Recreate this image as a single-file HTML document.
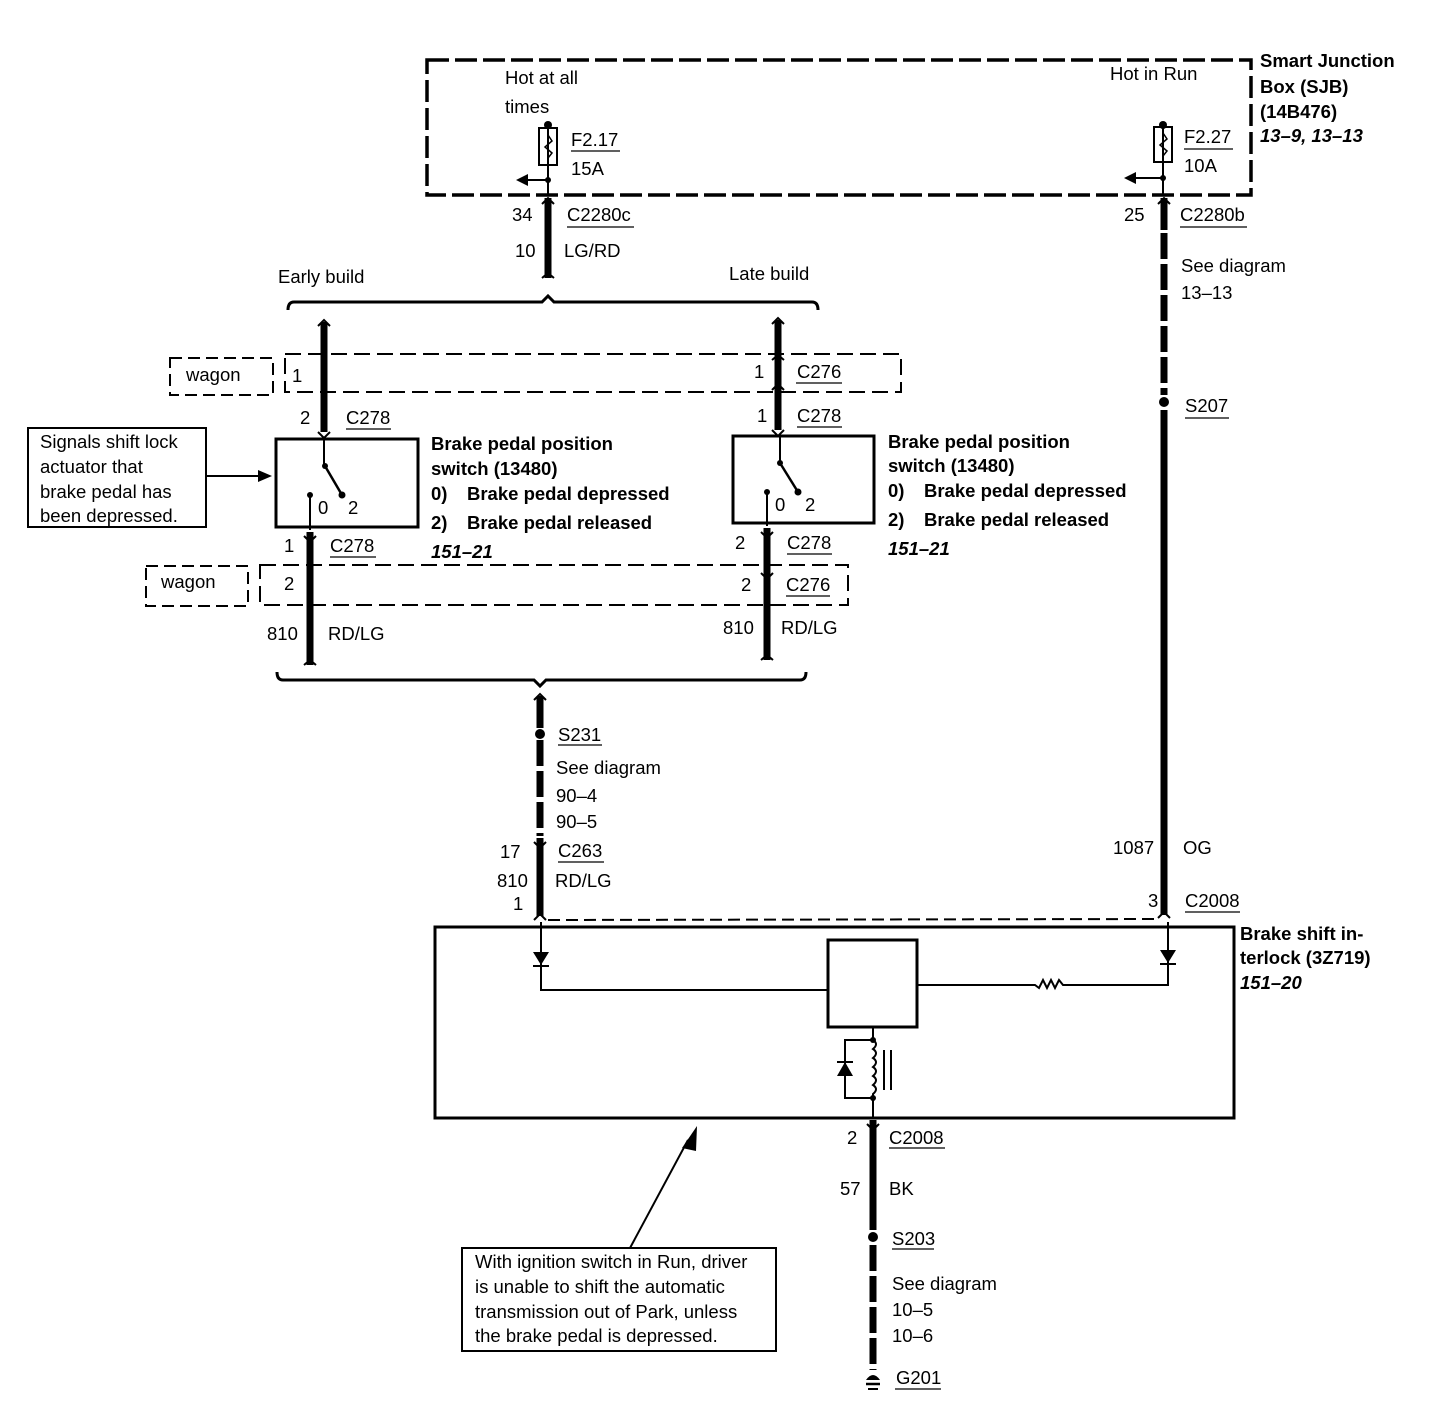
<!DOCTYPE html>
<html><head><meta charset="utf-8"><style>
html,body{margin:0;padding:0;background:#fff;}
svg{display:block;}
text{font-family:"Liberation Sans",sans-serif;font-size:18.5px;fill:#000;}
.b{font-weight:bold;font-size:18.5px;}
.bi{font-weight:bold;font-style:italic;}
</style></head><body>
<svg width="1430" height="1408" viewBox="0 0 1430 1408" xmlns="http://www.w3.org/2000/svg">
<g fill="none" stroke="#000">
<rect x="427" y="60" width="824" height="135" stroke-width="3.5" stroke-dasharray="22,6"/>
<line x1="548" y1="125" x2="548" y2="195" stroke-width="2"/>
<rect x="539" y="128" width="18" height="37" stroke-width="2"/>
<path d="M548 135 l4 6 -7 6 7 6 -4 5" stroke-width="1.5"/>
<line x1="548" y1="180" x2="525" y2="180" stroke-width="2"/>
<line x1="1163" y1="125" x2="1163" y2="195" stroke-width="2"/>
<rect x="1154" y="127" width="18" height="35" stroke-width="2"/>
<path d="M1163 133 l4 6 -7 6 7 6 -4 5" stroke-width="1.5"/>
<line x1="1163" y1="178" x2="1132" y2="178" stroke-width="2"/>
<line x1="548" y1="198" x2="548" y2="278" stroke-width="7"/>
<path d="M542 204 l6 -6 6 6 M542 278 l6 -5 6 5" stroke-width="2"/>
<line x1="1164" y1="198" x2="1164" y2="230" stroke-width="7"/>
<path d="M1158 204 l6 -6 6 6" stroke-width="2"/>
<line x1="1164" y1="233" x2="1164" y2="395" stroke-width="7" stroke-dasharray="26,5"/>
<line x1="1164" y1="410" x2="1164" y2="915" stroke-width="7"/>
<path d="M1158 918 l6 -6 6 6" stroke-width="2"/>
<path d="M288 310 q0 -8 6 -8 L542 302 l6 -6 6 6 L812 302 q6 0 6 8" stroke-width="3"/>
<line x1="324" y1="322" x2="324" y2="432" stroke-width="7"/>
<path d="M318 326 l6 -6 6 6 M318 432 l6 6 6 -6" stroke-width="2"/>
<line x1="324" y1="438" x2="324" y2="466" stroke-width="2"/>
<line x1="778" y1="320" x2="778" y2="430" stroke-width="7"/>
<path d="M772 324 l6 -6 6 6 M772 360 l6 -5 6 5 M772 390 l6 -6 6 6 M772 430 l6 6 6 -6" stroke-width="2"/>
<line x1="780" y1="435" x2="780" y2="463" stroke-width="2"/>
<rect x="170" y="358" width="103" height="37" stroke-width="2" stroke-dasharray="12,6"/>
<rect x="285" y="354" width="616" height="38" stroke-width="2" stroke-dasharray="16,7"/>
<rect x="276" y="439" width="142" height="88" stroke-width="3"/>
<line x1="325" y1="466" x2="342" y2="495" stroke-width="2.5"/>
<line x1="310" y1="495" x2="310" y2="530" stroke-width="2"/>
<rect x="733" y="436" width="141" height="87" stroke-width="3"/>
<line x1="780" y1="463" x2="798" y2="492" stroke-width="2.5"/>
<line x1="767" y1="492" x2="767" y2="526" stroke-width="2"/>
<rect x="28" y="428" width="178" height="99" stroke-width="2"/>
<line x1="206" y1="476" x2="262" y2="476" stroke-width="2"/>
<line x1="310" y1="532" x2="310" y2="665" stroke-width="7"/>
<path d="M304 536 l6 6 6 -6 M304 665 l6 -5 6 5" stroke-width="2"/>
<line x1="767" y1="528" x2="767" y2="660" stroke-width="7"/>
<path d="M761 532 l6 6 6 -6 M761 573 l6 6 6 -6 M761 660 l6 -5 6 5" stroke-width="2"/>
<rect x="146" y="566" width="102" height="40" stroke-width="2" stroke-dasharray="12,6"/>
<rect x="260" y="565" width="588" height="40" stroke-width="2" stroke-dasharray="16,7"/>
<path d="M277 672 q0 8 6 8 L534 680 l6 6 6 -6 L800 680 q6 0 6 -8" stroke-width="3"/>
<line x1="540" y1="696" x2="540" y2="728" stroke-width="7"/>
<path d="M534 700 l6 -6 6 6" stroke-width="2"/>
<line x1="540" y1="740" x2="540" y2="836" stroke-width="7" stroke-dasharray="26,5"/>
<line x1="540" y1="838" x2="540" y2="916" stroke-width="7"/>
<path d="M534 842 l6 6 6 -6 M534 920 l6 -6 6 6" stroke-width="2"/>
<line x1="548" y1="920" x2="1158" y2="919" stroke-width="2" stroke-dasharray="12,6"/>
<rect x="435" y="927" width="799" height="191" stroke-width="3"/>
<path d="M541 922 L541 990 L828 990" stroke-width="2"/>
<path d="M1168 922 L1168 985 L1063 985 l-4 -5 -4 8 -4 -8 -4 8 -4 -8 -4 8 -4 -3 L918 985" stroke-width="2"/>
<rect x="828" y="940" width="89" height="87" stroke-width="3"/>
<path d="M873 1027 L873 1040 M873 1040 L845 1040 L845 1098 L873 1098 M873 1040 q6 4 0 9 q6 4 0 9 q6 4 0 9 q6 4 0 9 q6 4 0 9 q6 4 0 9 L873 1118" stroke-width="2"/>
<line x1="884" y1="1050" x2="884" y2="1090" stroke-width="2"/>
<line x1="891" y1="1050" x2="891" y2="1090" stroke-width="2"/>
<line x1="873" y1="1120" x2="873" y2="1230" stroke-width="7"/>
<path d="M867 1124 l6 6 6 -6" stroke-width="2"/>
<line x1="873" y1="1245" x2="873" y2="1370" stroke-width="7" stroke-dasharray="26,5"/>
<line x1="866" y1="1384" x2="880" y2="1384" stroke-width="2.5"/>
<line x1="868" y1="1389" x2="878" y2="1389" stroke-width="2"/>
<rect x="462" y="1248" width="314" height="103" stroke-width="2"/>
<line x1="630" y1="1248" x2="688" y2="1140" stroke-width="2"/>
<g stroke-width="1.3">
<line x1="571" y1="151" x2="620" y2="151"/>
<line x1="1184" y1="149" x2="1233" y2="149"/>
<line x1="567" y1="227" x2="634" y2="227"/>
<line x1="1180" y1="227" x2="1247" y2="227"/>
<line x1="1185" y1="418" x2="1229" y2="418"/>
<line x1="346" y1="429" x2="391" y2="429"/>
<line x1="797" y1="427" x2="842" y2="427"/>
<line x1="796" y1="383" x2="842" y2="383"/>
<line x1="330" y1="557" x2="376" y2="557"/>
<line x1="787" y1="554" x2="832" y2="554"/>
<line x1="786" y1="596" x2="830" y2="596"/>
<line x1="558" y1="745" x2="602" y2="745"/>
<line x1="558" y1="862" x2="604" y2="862"/>
<line x1="1185" y1="912" x2="1240" y2="912"/>
<line x1="889" y1="1148" x2="945" y2="1148"/>
<line x1="892" y1="1249" x2="934" y2="1249"/>
<line x1="895" y1="1389" x2="941" y2="1389"/>
</g>
</g>
<g fill="#000">
<circle cx="548" cy="125" r="4"/><circle cx="548" cy="180" r="3"/>
<circle cx="1163" cy="125" r="4"/><circle cx="1163" cy="178" r="3"/>
<polygon points="516,180 528,174 528,186"/>
<polygon points="1124,178 1136,172 1136,184"/>
<circle cx="1164" cy="402" r="5"/>
<circle cx="325" cy="466" r="3"/><circle cx="342" cy="495" r="3.5"/><circle cx="310" cy="495" r="3"/>
<circle cx="780" cy="463" r="3"/><circle cx="798" cy="492" r="3.5"/><circle cx="767" cy="492" r="3"/>
<polygon points="272,476 258,470 258,482"/>
<circle cx="540" cy="734" r="5"/>
<polygon points="533,952 549,952 541,965"/><line x1="533" y1="966" x2="549" y2="966" stroke="#000" stroke-width="2"/>
<polygon points="1160,950 1176,950 1168,963"/><line x1="1160" y1="964" x2="1176" y2="964" stroke="#000" stroke-width="2"/>
<polygon points="837,1076 853,1076 845,1062"/><line x1="837" y1="1062" x2="853" y2="1062" stroke="#000" stroke-width="2"/>
<circle cx="873" cy="1040" r="3"/><circle cx="873" cy="1098" r="3"/>
<circle cx="873" cy="1237" r="5"/>
<path d="M866 1380 q7 -10 14 0 z"/>
<polygon points="697,1126 682,1148 696,1151"/>
</g>
<text x="505" y="84">Hot at all</text>
<text x="505" y="113">times</text>
<text x="571" y="146">F2.17</text>
<text x="571" y="175">15A</text>
<text x="1110" y="80">Hot in Run</text>
<text x="1184" y="143">F2.27</text>
<text x="1184" y="172">10A</text>
<text class="b" x="1260" y="67">Smart Junction</text>
<text class="b" x="1260" y="93">Box (SJB)</text>
<text class="b" x="1260" y="118">(14B476)</text>
<text class="bi" x="1260" y="142">13–9, 13–13</text>
<text x="512" y="221">34</text>
<text x="567" y="221">C2280c</text>
<text x="515" y="257">10</text>
<text x="564" y="257">LG/RD</text>
<text x="1124" y="221">25</text>
<text x="1180" y="221">C2280b</text>
<text x="1181" y="272">See diagram</text>
<text x="1181" y="299">13–13</text>
<text x="1185" y="412">S207</text>
<text x="278" y="283">Early build</text>
<text x="729" y="280">Late build</text>
<text x="186" y="381">wagon</text>
<text x="292" y="382">1</text>
<text x="754" y="378">1</text>
<text x="797" y="378">C276</text>
<text x="300" y="424">2</text>
<text x="346" y="424">C278</text>
<text x="757" y="422">1</text>
<text x="797" y="422">C278</text>
<text x="40" y="448">Signals shift lock</text>
<text x="40" y="473">actuator that</text>
<text x="40" y="498">brake pedal has</text>
<text x="40" y="522">been depressed.</text>
<text x="318" y="514">0</text><text x="348" y="514">2</text>
<text x="775" y="511">0</text><text x="805" y="511">2</text>
<text class="b" x="431" y="450">Brake pedal position</text>
<text class="b" x="431" y="475">switch (13480)</text>
<text class="b" x="431" y="500">0)</text><text class="b" x="467" y="500">Brake pedal depressed</text>
<text class="b" x="431" y="529">2)</text><text class="b" x="467" y="529">Brake pedal released</text>
<text class="bi" x="431" y="558">151–21</text>
<text class="b" x="888" y="448">Brake pedal position</text>
<text class="b" x="888" y="472">switch (13480)</text>
<text class="b" x="888" y="497">0)</text><text class="b" x="924" y="497">Brake pedal depressed</text>
<text class="b" x="888" y="526">2)</text><text class="b" x="924" y="526">Brake pedal released</text>
<text class="bi" x="888" y="555">151–21</text>
<text x="284" y="552">1</text>
<text x="330" y="552">C278</text>
<text x="735" y="549">2</text>
<text x="787" y="549">C278</text>
<text x="161" y="588">wagon</text>
<text x="284" y="590">2</text>
<text x="741" y="591">2</text>
<text x="786" y="591">C276</text>
<text x="267" y="640">810</text>
<text x="328" y="640">RD/LG</text>
<text x="723" y="634">810</text>
<text x="781" y="634">RD/LG</text>
<text x="558" y="741">S231</text>
<text x="556" y="774">See diagram</text>
<text x="556" y="802">90–4</text>
<text x="556" y="828">90–5</text>
<text x="500" y="858">17</text>
<text x="558" y="857">C263</text>
<text x="497" y="887">810</text>
<text x="555" y="887">RD/LG</text>
<text x="513" y="910">1</text>
<text x="1113" y="854">1087</text>
<text x="1183" y="854">OG</text>
<text x="1148" y="907">3</text>
<text x="1185" y="907">C2008</text>
<text class="b" x="1240" y="940">Brake shift in-</text>
<text class="b" x="1240" y="964">terlock (3Z719)</text>
<text class="bi" x="1240" y="989">151–20</text>
<text x="847" y="1144">2</text>
<text x="889" y="1144">C2008</text>
<text x="840" y="1195">57</text>
<text x="889" y="1195">BK</text>
<text x="892" y="1245">S203</text>
<text x="892" y="1290">See diagram</text>
<text x="892" y="1316">10–5</text>
<text x="892" y="1342">10–6</text>
<text x="896" y="1384">G201</text>
<text x="475" y="1268">With ignition switch in Run, driver</text>
<text x="475" y="1293">is unable to shift the automatic</text>
<text x="475" y="1318">transmission out of Park, unless</text>
<text x="475" y="1342">the brake pedal is depressed.</text>
</svg>
</body></html>
